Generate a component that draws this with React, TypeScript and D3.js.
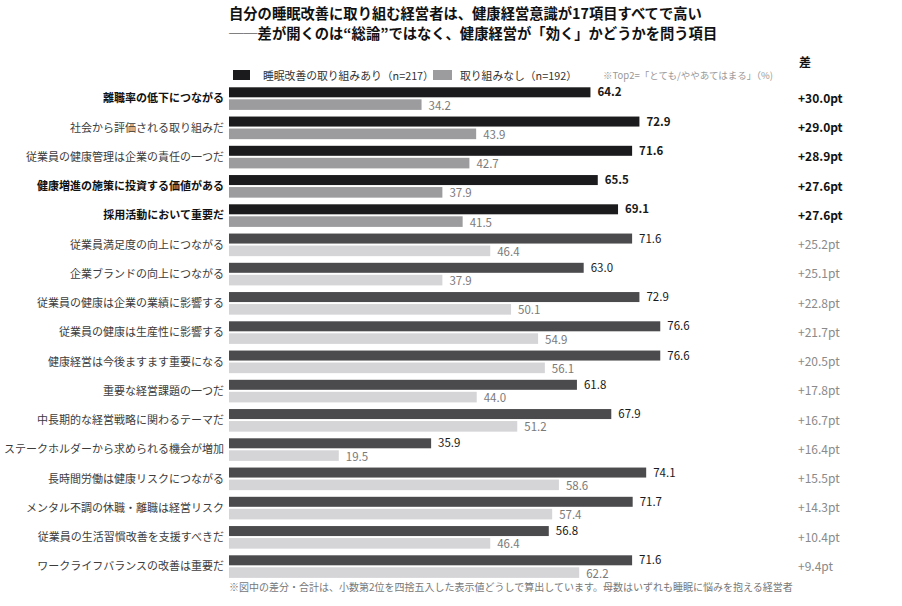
import React from "react";
import * as d3 from "d3";

const titleLines = [
  "自分の睡眠改善に取り組む経営者は、健康経営意識が17項目すべてで高い",
  "──差が開くのは“総論”ではなく、健康経営が「効く」かどうかを問う項目",
];
const seriesNames = ["睡眠改善の取り組みあり（n=217）", "取り組みなし（n=192）"];
const noteText = "※Top2=「とても/ややあてはまる」（%)";
const diffHeader = "差";
const footnote =
  "※図中の差分・合計は、小数第2位を四捨五入した表示値どうしで算出しています。母数はいずれも睡眠に悩みを抱える経営者";

const categories = [
  "離職率の低下につながる",
  "社会から評価される取り組みだ",
  "従業員の健康管理は企業の責任の一つだ",
  "健康増進の施策に投資する価値がある",
  "採用活動において重要だ",
  "従業員満足度の向上につながる",
  "企業ブランドの向上につながる",
  "従業員の健康は企業の業績に影響する",
  "従業員の健康は生産性に影響する",
  "健康経営は今後ますます重要になる",
  "重要な経営課題の一つだ",
  "中長期的な経営戦略に関わるテーマだ",
  "ステークホルダーから求められる機会が増加",
  "長時間労働は健康リスクにつながる",
  "メンタル不調の休職・離職は経営リスク",
  "従業員の生活習慣改善を支援すべきだ",
  "ワークライフバランスの改善は重要だ",
];
const withValues = [64.2, 72.9, 71.6, 65.5, 69.1, 71.6, 63.0, 72.9, 76.6, 76.6, 61.8, 67.9, 35.9, 74.1, 71.7, 56.8, 71.6];
const withoutValues = [34.2, 43.9, 42.7, 37.9, 41.5, 46.4, 37.9, 50.1, 54.9, 56.1, 44.0, 51.2, 19.5, 58.6, 57.4, 46.4, 62.2];
const highlightCount = 5;
const boldLabelIndices = [0, 3, 4];

const FONT = "'Noto Sans CJK JP', 'Noto Sans', sans-serif";

export default function App() {
  const W = 902;
  const H = 606;
  const x = d3.scaleLinear().domain([0, 100]).range([229, 792]);
  const y = d3
    .scaleBand<string>()
    .domain(categories)
    .range([84, 84 + 29.25 * categories.length])
    .paddingInner(0)
    .paddingOuter(0);

  const colors = {
    hiA: "#1b1a1c",
    hiB: "#9c9c9e",
    loA: "#4b4a4d",
    loB: "#d5d5d7",
  };

  const barH1 = 10;
  const barH2 = 10.6;
  const off1 = 3.3;
  const off2 = 15.3;

  return (
    <svg
      width={W}
      height={H}
      style={{ position: "absolute", left: 0, top: 0, background: "#fff" }}
      fontFamily={FONT}
    >
      <rect x={0} y={0} width={W} height={H} fill="#fff" />
      {titleLines.map((t, i) => (
        <text key={i} x={229} y={19 + i * 19.5} fontSize={14.3} fontWeight="bold" fill="#111">
          {t}
        </text>
      ))}

      {/* legend */}
      <rect x={233} y={70} width={17} height={10} fill={colors.hiA} />
      <text x={263} y={79.5} fontSize={10.8} fill="#333">
        {seriesNames[0]}
      </text>
      <rect x={433} y={70} width={19} height={10} fill={colors.hiB} />
      <text x={460} y={79.5} fontSize={10.8} fill="#333">
        {seriesNames[1]}
      </text>
      <text x={603} y={79} fontSize={9.5} fill="#999">
        {noteText}
      </text>
      <text x={799} y={67} fontSize={12} fontWeight="bold" fill="#111">
        {diffHeader}
      </text>

      {categories.map((c, i) => {
        const y0 = y(c)!;
        const hi = i < highlightCount;
        const boldLabel = boldLabelIndices.includes(i);
        const a = withValues[i];
        const b = withoutValues[i];
        const diff = (Math.round((a - b) * 10) / 10).toFixed(1);
        const midY = y0 + off1 + (off2 + barH2 - off1) / 2;
        return (
          <g key={c}>
            <text
              x={224}
              y={midY}
              dy="0.35em"
              textAnchor="end"
              fontSize={11}
              fontWeight={boldLabel ? "bold" : "normal"}
              fill={boldLabel ? "#111" : "#3c3c3c"}
            >
              {c}
            </text>
            <rect x={x(0)} y={y0 + off1} width={x(a) - x(0)} height={barH1} fill={hi ? colors.hiA : colors.loA} />
            <rect x={x(0)} y={y0 + off2} width={x(b) - x(0)} height={barH2} fill={hi ? colors.hiB : colors.loB} />
            <text
              x={x(a) + 7}
              y={y0 + off1 + barH1 / 2}
              dy="0.35em"
              fontSize={11.5}
              fontWeight={hi ? "bold" : "normal"}
              fill="#1a1a1a"
            >
              {a.toFixed(1)}
            </text>
            <text x={x(b) + 7} y={y0 + off2 + barH2 / 2 + 1} dy="0.35em" fontSize={11.5} fill="#7a7a7a">
              {b.toFixed(1)}
            </text>
            <text
              x={798}
              y={midY}
              dy="0.35em"
              fontSize={12}
              fontWeight={hi ? "bold" : "normal"}
              fill={hi ? "#111" : "#8a8a8a"}
            >
              {`+${diff}pt`}
            </text>
          </g>
        );
      })}

      <text x={229} y={591} fontSize={10} fill="#777">
        {footnote}
      </text>
    </svg>
  );
}
